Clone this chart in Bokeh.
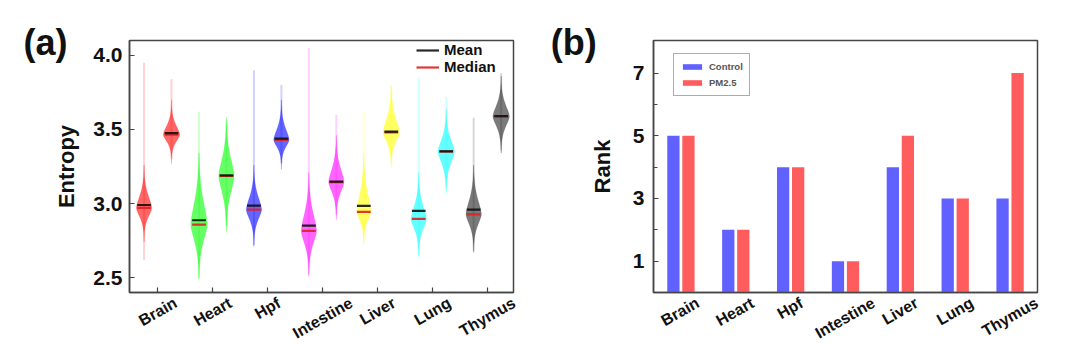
import numpy as np
from bokeh.plotting import figure
from bokeh.layouts import row, column
from bokeh.models import (FixedTicker, Label, Legend, LegendItem, Range1d, CustomJSTickFormatter)
from bokeh.core.properties import value
from bokeh.embed import file_html
from bokeh.resources import INLINE

# ---------------- data ----------------
tissues = ["Brain", "Heart", "Hpf", "Intestine", "Liver", "Lung", "Thymus"]
tissue_colors = ["#ff0000", "#00ff00", "#0000ff", "#ff00ff", "#ffff00", "#00ffff", "#222222"]

# violins: order per tissue = Control, PM2.5
violin_mean = [2.99, 3.476, 2.887, 3.19, 2.986, 3.438, 2.85, 3.148, 2.984, 3.485, 2.95, 3.352, 2.959, 3.59]
violin_median = [2.97, 3.465, 2.858, 3.186, 2.959, 3.43, 2.815, 3.145, 2.943, 3.48, 2.896, 3.352, 2.927, 3.588]
violin_body_lo = [2.80, 3.33, 2.55, 2.87, 2.77, 3.29, 2.57, 2.95, 2.78, 3.30, 2.70, 3.13, 2.73, 3.40]
violin_body_hi = [3.20, 3.64, 3.28, 3.52, 3.20, 3.64, 3.15, 3.40, 3.28, 3.74, 3.15, 3.58, 3.20, 3.80]
violin_tail_lo = [2.62, 3.30, 2.50, 2.85, 2.72, 3.27, 2.52, 2.92, 2.74, 3.26, 2.65, 3.10, 2.68, 3.36]
violin_tail_hi = [3.95, 3.84, 3.62, 3.56, 3.90, 3.80, 4.05, 3.60, 3.62, 3.80, 3.85, 3.72, 3.58, 3.88]
violin_halfwidth = [0.28, 0.30, 0.30, 0.28, 0.28, 0.28, 0.28, 0.28, 0.26, 0.30, 0.28, 0.30, 0.28, 0.30]

control_rank = [5, 2, 4, 1, 4, 3, 3]
pm25_rank = [5, 2, 4, 1, 5, 3, 7]

# ---------------- style / layout constants ----------------
FONT = "Liberation Sans"
AXIS_COLOR = "#454545"
TEXT_COLOR = "#111111"
LABEL_ANGLE = 0.52
LABEL_SIZE = 16
W = 540
MAIN_H = 294          # frame: top 40 .. bottom 292
LAB_H = 345 - MAIN_H
TOP = 40
LABEL_TOP = 296       # top of the rotated category labels (canvas px)
CHAR_W = {"B": 722, "r": 389, "a": 556, "i": 278, "n": 611, "H": 722, "e": 556, "t": 333,
          "p": 611, "f": 333, "I": 278, "s": 556, "L": 611, "v": 556, "u": 611, "g": 611,
          "T": 611, "h": 611, "y": 556, "m": 889}


def label_center_offset(txt):
    L = sum(CHAR_W.get(c, 600) for c in txt) / 1000.0 * LABEL_SIZE
    cap = 0.716 * LABEL_SIZE
    return (L * np.sin(LABEL_ANGLE) + cap * np.cos(LABEL_ANGLE)) / 2.0


def label_figure(x0, x1, border_l, border_r, frame_w, centers):
    ppu = frame_w / (x1 - x0)
    f = figure(width=W, height=LAB_H, output_backend="svg", toolbar_location=None,
               x_range=Range1d(x0 - border_l / ppu, x1 + border_r / ppu),
               y_range=Range1d(LAB_H, 0), min_border=0, x_axis_type=None, y_axis_type=None)
    f.frame_align = False
    f.outline_line_color = None
    f.xgrid.visible = False
    f.ygrid.visible = False
    ys = [LABEL_TOP + label_center_offset(t) - MAIN_H for t in tissues]
    f.text(x=centers, y=ys, text=tissues, angle=LABEL_ANGLE, text_align="center", text_baseline="middle",
           text_font=value(FONT), text_font_style="bold", text_font_size=f"{LABEL_SIZE}px", text_color=TEXT_COLOR)
    return f


def style_axes(p):
    for ax in (p.xaxis[0], p.yaxis[0]):
        ax.axis_line_color = AXIS_COLOR
        ax.axis_line_width = 1.5
        ax.major_tick_line_color = AXIS_COLOR
        ax.major_tick_line_width = 1.2
        ax.major_tick_in = 5
        ax.major_tick_out = 0
        ax.minor_tick_line_color = AXIS_COLOR
        ax.minor_tick_line_width = 1.2
        ax.minor_tick_in = 4
        ax.minor_tick_out = 0
        ax.major_label_text_font = FONT
        ax.major_label_text_font_style = "bold"
        ax.major_label_text_color = TEXT_COLOR
    p.xaxis.major_label_standoff = 0
    p.yaxis.major_label_text_font_size = "21px"
    p.yaxis.axis_label_text_font = FONT
    p.yaxis.axis_label_text_font_style = "bold"
    p.yaxis.axis_label_text_font_size = "22px"
    p.yaxis.axis_label_text_color = TEXT_COLOR
    p.xgrid.visible = False
    p.ygrid.visible = False
    p.outline_line_color = AXIS_COLOR
    p.outline_line_width = 1.5
    p.frame_align = False


# ---------------- panel (a) ----------------
A_LEFT, A_RIGHT = 129, 27
xa0, xa1 = 0.47, 14.45
p1 = figure(width=W, height=MAIN_H, output_backend="svg", toolbar_location=None,
            x_range=Range1d(xa0, xa1), y_range=Range1d(2.399, 4.101),
            min_border_left=A_LEFT, min_border_right=A_RIGHT, min_border_top=TOP, min_border_bottom=2)
fw1 = W - A_LEFT - A_RIGHT
px1 = fw1 / (xa1 - xa0)

n_v = len(violin_mean)
pos = np.arange(1, n_v + 1)
xs, ys, cols = [], [], []
for i in range(n_v):
    peak = violin_median[i]
    yy = np.linspace(violin_body_lo[i] - 0.06, violin_body_hi[i] + 0.06, 160)
    d = np.where(yy < peak, (peak - yy) / (peak - violin_body_lo[i]), (yy - peak) / (violin_body_hi[i] - peak))
    w = violin_halfwidth[i] * np.exp(-3.0 * np.abs(d) ** 1.6)
    xs.append(list(pos[i] - w) + list(pos[i] + w[::-1]))
    ys.append(list(yy) + list(yy[::-1]))
    cols.append(tissue_colors[i // 2])

p1.segment(x0=pos, y0=violin_tail_lo, x1=pos, y1=violin_tail_hi, line_color=cols, line_alpha=0.18, line_width=2)
p1.patches(xs, ys, fill_color=cols, fill_alpha=0.6, line_color=cols, line_alpha=0.15, line_width=1)

lw = 0.25
med_r = p1.segment(x0=pos - lw, y0=violin_median, x1=pos + lw, y1=violin_median, line_color="#e02020", line_width=2.2, line_alpha=0.9)
mean_r = p1.segment(x0=pos - lw, y0=violin_mean, x1=pos + lw, y1=violin_mean, line_color="#111111", line_width=2.2, line_alpha=0.9)

leg1 = Legend(items=[LegendItem(label="Mean", renderers=[mean_r]), LegendItem(label="Median", renderers=[med_r])],
              location="top_right", margin=1, padding=4, spacing=0, glyph_width=23, glyph_height=16,
              label_height=16, label_width=68, label_standoff=5, border_line_color=None, background_fill_alpha=0,
              label_text_font=FONT, label_text_font_style="bold", label_text_font_size="15px",
              label_text_color=TEXT_COLOR)
p1.add_layout(leg1)

style_axes(p1)
pair_centers = [2 * k + 1.5 for k in range(len(tissues))]
p1.xaxis.ticker = FixedTicker(ticks=[], minor_ticks=pair_centers)
p1.xaxis.minor_tick_in = 5
p1.yaxis.ticker = FixedTicker(ticks=[2.5, 3.0, 3.5, 4.0], minor_ticks=[])
p1.yaxis.formatter = CustomJSTickFormatter(code="return tick.toFixed(1);")
p1.yaxis.major_label_standoff = 7
p1.yaxis.axis_label = "Entropy"
p1.yaxis.axis_label_standoff = 11

p1.add_layout(Label(x=xa0 + (45 - A_LEFT) / px1, y=4.101 - 2 / 148.2, text="(a)", text_align="center",
                    text_baseline="middle", text_font=FONT, text_font_style="bold", text_font_size="36px",
                    text_color=TEXT_COLOR), "left")

lab1 = label_figure(xa0, xa1, A_LEFT, A_RIGHT, fw1, pair_centers)

# ---------------- panel (b) ----------------
B_LEFT, B_RIGHT = 112, 43
xb0, xb1 = 0.5, 7.5
yb1 = 8.04
p2 = figure(width=W, height=MAIN_H, output_backend="svg", toolbar_location=None,
            x_range=Range1d(xb0, xb1), y_range=Range1d(0, yb1),
            min_border_left=B_LEFT, min_border_right=B_RIGHT, min_border_top=TOP, min_border_bottom=2)
fw2 = W - B_LEFT - B_RIGHT
px2 = fw2 / (xb1 - xb0)

cats = np.arange(1, len(tissues) + 1)
bw = 0.224
off = 0.137
c_r = p2.vbar(x=cats - off, top=control_rank, width=bw, fill_color="#6161ff", line_color=None)
pm_r = p2.vbar(x=cats + off, top=pm25_rank, width=bw, fill_color="#ff5d5d", line_color=None)

leg2 = Legend(items=[LegendItem(label="Control", renderers=[c_r]), LegendItem(label="PM2.5", renderers=[pm_r])],
              location=(20, 196), margin=0, padding=6, spacing=3, glyph_width=24, glyph_height=7,
              label_height=13, label_standoff=5, border_line_color="#5a5a5a", border_line_width=1.2,
              background_fill_alpha=0, label_text_font=FONT, label_text_font_style="bold",
              label_text_font_size="9.5px", label_text_color="#555555")
p2.add_layout(leg2)

style_axes(p2)
p2.xaxis.ticker = FixedTicker(ticks=[], minor_ticks=[])
p2.yaxis.ticker = FixedTicker(ticks=[1, 3, 5, 7], minor_ticks=[2, 4, 6])
p2.yaxis.major_label_standoff = 9
p2.yaxis.axis_label = "Rank"
p2.yaxis.axis_label_standoff = 15

p2.add_layout(Label(x=xb0 + (572 - 540 - B_LEFT) / px2, y=yb1 - 2 / 31.5, text="(b)", text_align="center",
                    text_baseline="middle", text_font=FONT, text_font_style="bold", text_font_size="36px",
                    text_color=TEXT_COLOR), "left")

lab2 = label_figure(xb0, xb1, B_LEFT, B_RIGHT, fw2, list(cats))

layout = row(column(p1, lab1), column(p2, lab2))
open("out.html", "w").write(file_html(layout, INLINE))
